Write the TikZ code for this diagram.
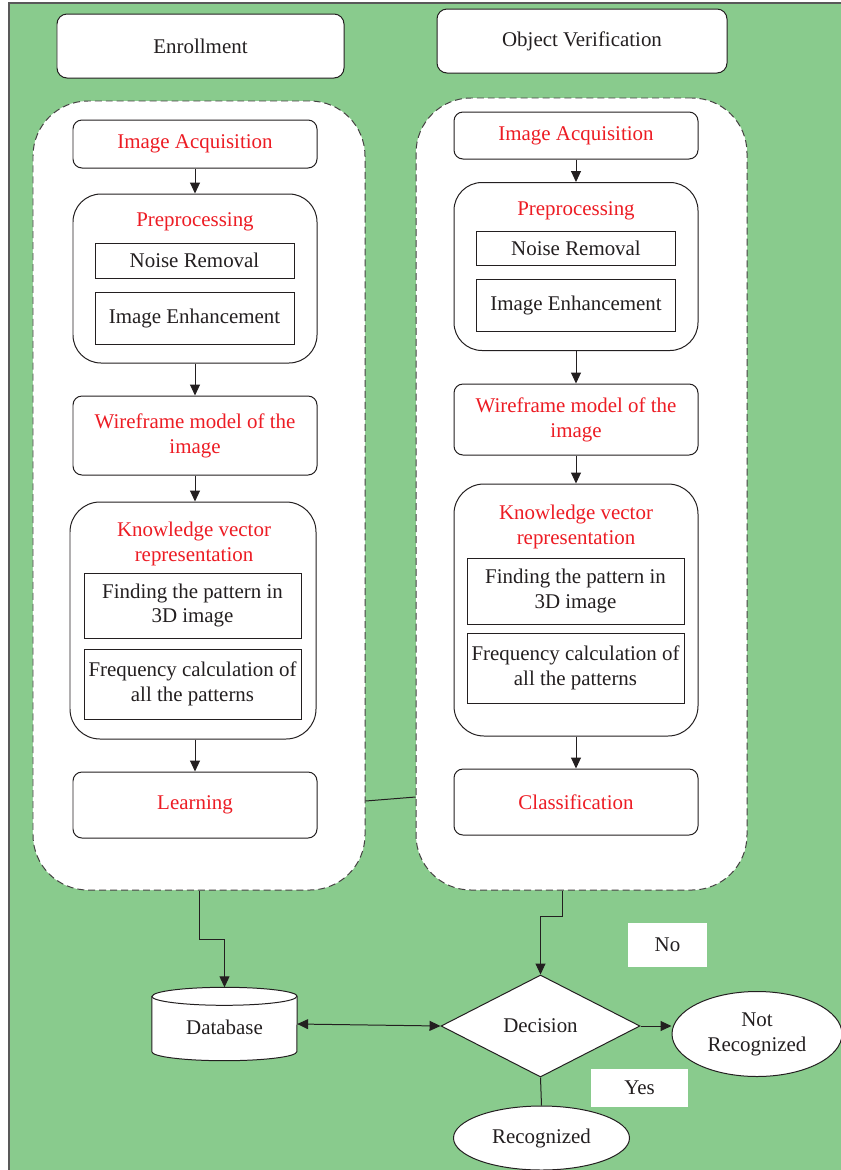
\documentclass[tikz,border=0pt]{standalone}
\usepackage{fontspec}
\setmainfont{Liberation Serif}
\usetikzlibrary{shapes.geometric,arrows.meta}
\definecolor{bggreen}{RGB}{137,203,141}
\definecolor{ink}{RGB}{35,31,32}
\definecolor{redink}{RGB}{237,28,36}
\tikzset{
  stepbox/.style={draw=ink, fill=white, line width=1pt, rounded corners=9bp, minimum width=244bp, text=redink, align=center},
  groupbox/.style={draw=ink, fill=white, line width=1pt, rounded corners=28bp, minimum width=244bp},
  subbox/.style={draw=ink, fill=white, line width=1pt, minimum width=217bp, align=center},
  headbox/.style={draw=ink, fill=white, line width=1pt, rounded corners=10bp, minimum height=64bp},
  phase/.style={draw=ink!85, fill=white, line width=1pt, dash pattern=on 7pt off 4pt, rounded corners=55bp},
  redtitle/.style={text=redink, align=center},
  answer/.style={fill=white, inner sep=0pt},
  arr/.style={draw=ink, line width=1pt, -{Triangle[length=11pt,width=10pt]}}
}
\begin{document}
\begin{tikzpicture}[x=1bp, y=-1bp, font=\fontsize{21}{25}\selectfont, text=ink]
\useasboundingbox (0,0) rectangle (841,1170);
% Background
\fill[bggreen] (9,3) rectangle (860,1190);
\draw[line width=1.5pt, draw=black!65] (9,1190) -- (9,3) -- (860,3);

% Headers
\node[headbox, minimum width=287bp] (enr) at (200.5,46) {Enrollment};
\node[headbox, minimum width=290bp] (ver) at (582,41) {Object Verification};

% Phases
\node[phase, minimum width=332bp, minimum height=789bp] (contL) at (199,495.5) {};
\node[phase, minimum width=331bp, minimum height=792bp] (contR) at (581.5,494) {};
\draw[draw=ink, line width=1pt] (contL.east |- 0,801) -- (contR.west |- 0,797);

% Enrollment steps
\node[stepbox, minimum height=48bp] (accL) at (195,144) {Image Acquisition};
\node[groupbox, minimum height=169bp] (preL) at (195,278.5) {};
\node[redtitle] (pretL) at (195,222) {Preprocessing};
\node[subbox, minimum width=199bp, minimum height=35bp] (noiseL) at (194.5,260.5) {Noise Removal};
\node[subbox, minimum width=199bp, minimum height=52bp] (enhL) at (194.5,318) {Image Enhancement};
\node[stepbox, minimum height=79bp] (wireL) at (195,435.5) {Wireframe model of the\\image};
\node[groupbox, rounded corners=30bp, minimum width=246bp, minimum height=237bp] (knowL) at (193,620.5) {};
\node[redtitle] (knowtL) at (194,544) {Knowledge vector\\representation};
\node[subbox, minimum height=65bp] (findL) at (192.5,605.5) {Finding the pattern in\\3D image};
\node[subbox, minimum height=70bp] (freqL) at (192.5,684) {Frequency calculation of\\all the patterns};
\node[stepbox, minimum height=66bp] (learnL) at (195,805) {Learning};

% Verification steps
\node[stepbox, minimum height=47bp] (accR) at (576,135.5) {Image Acquisition};
\node[groupbox, minimum height=168bp] (preR) at (576,266.5) {};
\node[redtitle] (pretR) at (576,211) {Preprocessing};
\node[subbox, minimum width=199bp, minimum height=34bp] (noiseR) at (576,248.5) {Noise Removal};
\node[subbox, minimum width=199bp, minimum height=52bp] (enhR) at (576,305.5) {Image Enhancement};
\node[stepbox, minimum height=71bp] (wireR) at (576,419.5) {Wireframe model of the\\image};
\node[groupbox, rounded corners=30bp, minimum height=252bp] (knowR) at (576,610) {};
\node[redtitle] (knowtR) at (576,527) {Knowledge vector\\representation};
\node[subbox, minimum height=66bp] (findR) at (575.5,591) {Finding the pattern in\\3D image};
\node[subbox, minimum height=70bp] (freqR) at (575.5,668) {Frequency calculation of\\all the patterns};
\node[stepbox, minimum height=66bp] (classR) at (576,802) {Classification};

% Step links
\draw[arr] (accL) -- (preL);
\draw[arr] (preL) -- (wireL);
\draw[arr] (wireL) -- (knowL.north -| wireL);
\draw[arr] (knowL.south -| learnL) -- (learnL);
\draw[arr] (accR) -- (preR);
\draw[arr] (preR) -- (wireR);
\draw[arr] (wireR) -- (knowR);
\draw[arr] (knowR) -- (classR);

% Database
\node[minimum width=145bp, minimum height=73bp, inner sep=0pt] (db) at (224.5,1024) {};
\draw[draw=ink, fill=white, line width=1pt] ([yshift=-9bp]db.north west) -- ([yshift=9bp]db.south west)
  arc[start angle=180, end angle=360, x radius=72.5bp, y radius=9bp] -- ([yshift=-9bp]db.north east)
  arc[start angle=0, end angle=180, x radius=72.5bp, y radius=9bp] -- cycle;
\draw[draw=ink, line width=1pt] ([yshift=-9bp]db.north west) arc[start angle=180, end angle=360, x radius=72.5bp, y radius=9bp];
\node (dbtext) at (224.5,1027) {Database};

% Decision
\node[diamond, draw=ink, fill=white, line width=1pt, minimum width=199bp, minimum height=102bp, inner sep=0pt] (dec) at (540.5,1026) {Decision};
\node[ellipse, draw=ink, fill=white, line width=1pt, minimum width=170bp, minimum height=85bp, inner sep=0pt, align=center] (notrec) at (757,1034) {Not\\Recognized};
\node[ellipse, draw=ink, fill=white, line width=1pt, minimum width=176bp, minimum height=64bp, inner sep=0pt] (rec) at (541.5,1138) {Recognized};
\node[answer, minimum width=79bp, minimum height=44bp] (no) at (667.5,945) {No};
\node[answer, minimum width=97bp, minimum height=38bp] (yes) at (639.5,1088) {Yes};

% Flow links
\draw[arr] (contL.south) -- ++(0,49) -| (db.north);
\draw[arr] ([xshift=-19.5bp]contR.south) -- ++(0,26) -| (dec.north);
\draw[arr, {Triangle[length=11pt,width=10pt]}-{Triangle[length=11pt,width=10pt]}] (db.east) -- (dec.west);
\draw[arr] (dec.east) -- (dec.east -| notrec.west);
\draw[draw=ink, line width=1pt] (dec.south) -- (rec.north);

\end{tikzpicture}
\end{document}
